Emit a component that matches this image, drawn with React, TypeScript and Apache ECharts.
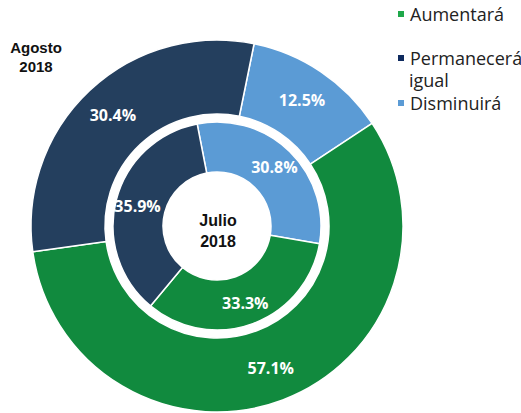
import React, { useEffect, useRef } from "react";
import * as echarts from "echarts";

const categories = ["Aumentará", "Permanecerá igual", "Disminuirá"];
const legendLabels = ["Aumentará", "Permanecerá", "Disminuirá"];
const legendExtraLine = "igual";
const agosto2018 = [57.1, 30.4, 12.5];
const julio2018 = [33.3, 35.9, 30.8];
const colors = ["#118a3e", "#243f5e", "#5b9bd5"];
const legendColors = ["#1fa84a", "#0e2a5e", "#5b9bd5"];
// clockwise drawing order in the rings: Disminuirá, Aumentará, Permanecerá igual
const ringOrder = [2, 0, 1];

export default function App() {
  const ref = useRef<HTMLDivElement>(null);
  useEffect(() => {
    if (!ref.current) return;
    const chart = echarts.init(ref.current, undefined, { renderer: "svg" });
    const mk = (vals: number[]) =>
      ringOrder.map((i) => ({
        name: categories[i],
        value: vals[i],
        itemStyle: { color: colors[i] },
      }));
    const label = {
      show: true,
      position: "inside",
      formatter: (p: any) => p.value.toFixed(1) + "%",
      color: "#ffffff",
      fontWeight: "bold",
      fontSize: 16,
      fontFamily: "Open Sans",
    };
    const legendTops = [3, 47, 92];
    chart.setOption({
      animation: false,
      backgroundColor: "#ffffff",
      legend: categories.map((c, i) => ({
        left: 396,
        top: legendTops[i],
        padding: 0,
        orient: "vertical",
        icon: "rect",
        itemWidth: 8,
        itemHeight: 8,
        itemGap: 0,
        selectedMode: false,
        data: [{ name: c, itemStyle: { color: legendColors[i] } }],
        formatter: () => legendLabels[i],
        textStyle: {
          fontSize: 18,
          fontFamily: "Open Sans",
          color: "#222222",
          lineHeight: 22,
        },
      })),
      graphic: [
        {
          type: "text",
          x: 409,
          y: 80,
          style: {
            text: legendExtraLine,
            fontSize: 18,
            fontFamily: "Open Sans",
            fill: "#222222",
            verticalAlign: "middle",
          },
        },
        {
          type: "text",
          x: 36,
          y: 38,
          style: {
            text: "Agosto\n2018",
            fontSize: 15,
            fontWeight: "bold",
            fontFamily: "Liberation Sans",
            fill: "#111111",
            align: "center",
            lineHeight: 19,
          },
        },
        {
          type: "text",
          x: 218,
          y: 231,
          style: {
            text: "Julio\n2018",
            fontSize: 16,
            fontWeight: "bold",
            fontFamily: "Liberation Sans",
            fill: "#111111",
            align: "center",
            verticalAlign: "middle",
            lineHeight: 21,
          },
        },
      ],
      series: [
        {
          type: "pie",
          name: "Agosto 2018",
          center: [217, 226],
          radius: [112, 186],
          startAngle: 78.5,
          clockwise: true,
          avoidLabelOverlap: false,
          label,
          labelLine: { show: false },
          itemStyle: { borderColor: "#ffffff", borderWidth: 1.5 },
          emphasis: { disabled: true },
          data: mk(agosto2018),
        },
        {
          type: "pie",
          name: "Julio 2018",
          center: [217, 226],
          radius: [54, 104],
          startAngle: 101,
          clockwise: true,
          avoidLabelOverlap: false,
          label,
          labelLine: { show: false },
          itemStyle: { borderColor: "#ffffff", borderWidth: 1.5 },
          emphasis: { disabled: true },
          data: mk(julio2018),
        },
      ],
    });
    return () => chart.dispose();
  }, []);
  return (
    <div
      ref={ref}
      style={{ position: "absolute", left: 0, top: 0, width: 521, height: 413 }}
    />
  );
}
